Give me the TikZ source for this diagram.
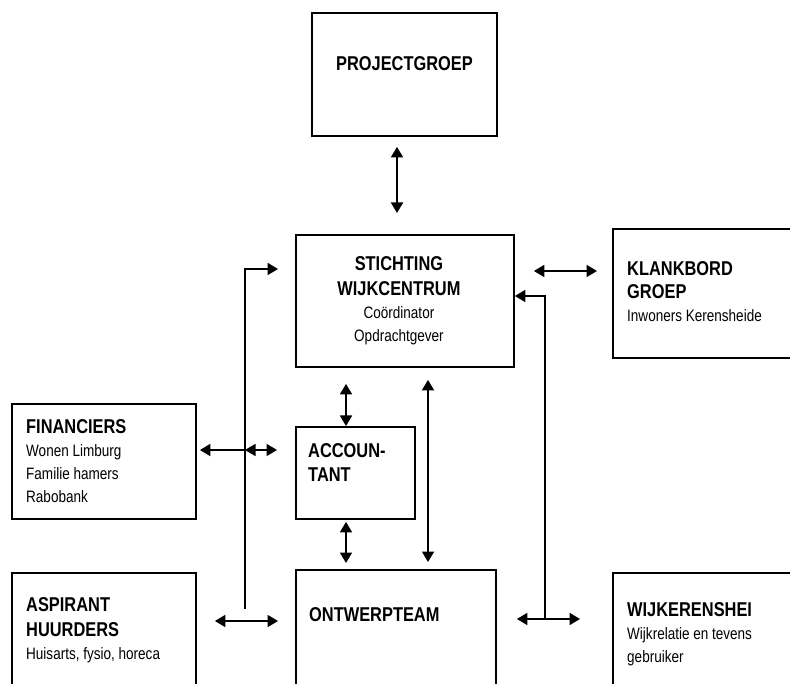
\documentclass[tikz,border=0pt]{standalone}
\usepackage{fontspec}
\setmainfont{Liberation Sans}[FakeStretch=0.82]
\usetikzlibrary{positioning}
\usetikzlibrary{arrows.meta}

\newcommand{\kop}[1]{{\bfseries\fontsize{20}{25}\selectfont #1}}

\begin{document}
\begin{tikzpicture}[x=1pt, y=-1pt,
                          box/.style={rectangle, draw, line width=1.9pt, anchor=north west, inner sep=0pt},
                          tekst/.style={align=left, inner sep=0pt, font=\fontsize{16.5}{23}\selectfont},
                          pijl/.style={line width=1.8pt, -{Triangle[length=10.5pt,width=12pt]}},
                          dubbelpijl/.style={line width=1.8pt, {Triangle[length=10.5pt,width=12pt]}-{Triangle[length=10.5pt,width=12pt]}},
                      ]
                      \clip (0,0) rectangle (790,684);

                      %Boxes
                      \node[box, minimum width=185pt, minimum height=123pt] (proj)  at (311,12)  {};
                      \node[box, minimum width=218pt, minimum height=132pt] (stich) at (295,234) {};
                      \node[box, minimum width=190pt, minimum height=129pt] (klank) at (612,228) {};
                      \node[box, minimum width=184pt, minimum height=115pt] (fin)   at (11,403)  {};
                      \node[box, minimum width=119pt, minimum height=92pt]  (acc)   at (295,426) {};
                      \node[box, minimum width=184pt, minimum height=130pt] (asp)   at (11,572)  {};
                      \node[box, minimum width=200pt, minimum height=133pt] (ontw)  at (295,569) {};
                      \node[box, minimum width=190pt, minimum height=130pt] (wijk)  at (612,572) {};

                      %Texts
                      \node[tekst]                (proj_tekst)  [below=44pt of proj.north]               {\kop{PROJECTGROEP}};
                      \node[tekst, align=center]  (stich_tekst) [below=22pt of stich.north, xshift=-6pt] {\kop{STICHTING}\\[2pt]\kop{WIJKCENTRUM}\\Coördinator\\Opdrachtgever};
                      \node[tekst]                (klank_tekst) [below right=33pt and 15pt of klank.north west] {\kop{KLANKBORD}\\\kop{GROEP}\\Inwoners Kerensheide};
                      \node[tekst]                (fin_tekst)   [below right=16pt and 15pt of fin.north west]   {\kop{FINANCIERS}\\Wonen Limburg\\Familie hamers\\Rabobank};
                      \node[tekst]                (acc_tekst)   [below right=17pt and 13pt of acc.north west]   {\kop{ACCOUN-}\\[1pt]\kop{TANT}};
                      \node[tekst]                (asp_tekst)   [below right=25pt and 15pt of asp.north west]   {\kop{ASPIRANT}\\[2pt]\kop{HUURDERS}\\Huisarts, fysio, horeca};
                      \node[tekst]                (ontw_tekst)  [below right=38pt and 14pt of ontw.north west]  {\kop{ONTWERPTEAM}};
                      \node[tekst]                (wijk_tekst)  [below right=30pt and 15pt of wijk.north west]  {\kop{WIJKERENSHEI}\\Wijkrelatie en tevens\\gebruiker};

                      %Junctions
                      \coordinate (links_boven)  at (245,269);
                      \coordinate (links_onder)  at (245,609);
                      \coordinate (rechts_boven) at (545,296);
                      \coordinate (rechts_onder) at (545,619);
                      \coordinate (fin_pijl)     at (245,450);
                      \coordinate (asp_pijl)     at (245,621);
                      \coordinate (klank_pijl)   at (532,271);
                      \coordinate (proj_kolom)   at (397,0);
                      \coordinate (acc_kolom)    at (346,0);
                      \coordinate (lang_kolom)   at (428,0);

                      %Lines
                      \draw[dubbelpijl, shorten <=10pt, shorten >=21pt] (proj_kolom |- proj.south) -- (proj_kolom |- stich.north);
                      \draw[pijl, shorten >=17pt] (links_onder) -- (links_boven) -- (links_boven -| stich.west);
                      \draw[pijl, shorten >=3pt] (fin_pijl) -- (fin_pijl -| fin.east);
                      \draw[dubbelpijl, shorten >=18pt] (fin_pijl) -- (fin_pijl -| acc.west);
                      \draw[dubbelpijl, shorten <=18pt, shorten >=17pt] (asp_pijl -| asp.east) -- (asp_pijl -| ontw.west);
                      \draw[pijl] (rechts_onder) -- (rechts_boven) -- (rechts_boven -| stich.east);
                      \draw[dubbelpijl, shorten <=20pt, shorten >=32pt] (rechts_onder -| ontw.east) -- (rechts_onder -| wijk.west);
                      \draw[dubbelpijl, shorten <=19pt, shorten >=15pt] (klank_pijl -| stich.east) -- (klank_pijl -| klank.west);
                      \draw[dubbelpijl, shorten <=16pt] (acc_kolom |- stich.south) -- (acc_kolom |- acc.north);
                      \draw[dubbelpijl, shorten <=2pt, shorten >=6pt] (acc_kolom |- acc.south) -- (acc_kolom |- ontw.north);
                      \draw[dubbelpijl, shorten <=12pt, shorten >=7pt] (lang_kolom |- stich.south) -- (lang_kolom |- ontw.north);
                  \end{tikzpicture}
\end{document}
